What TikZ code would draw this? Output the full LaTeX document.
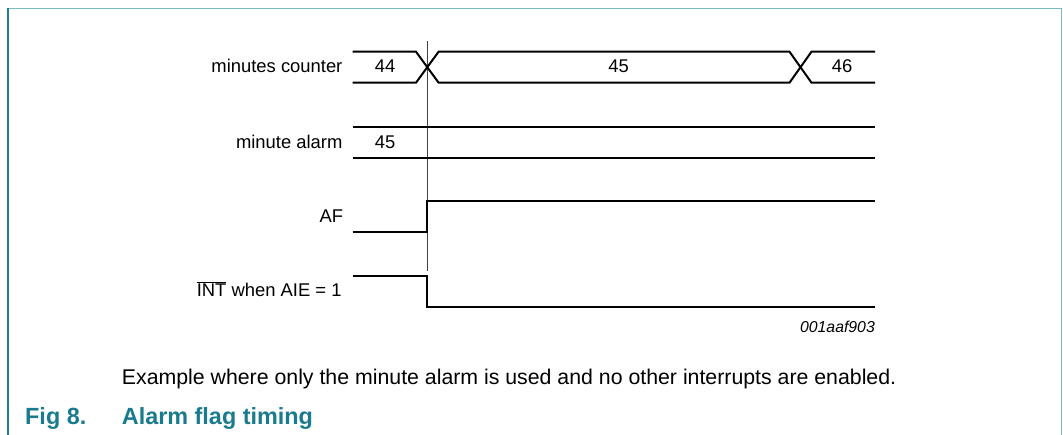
\documentclass[tikz,border=0pt]{standalone}
\usepackage{fontspec}
\setmainfont{Liberation Sans}
\definecolor{titleteal}{HTML}{1A7A8E}
\definecolor{framelight}{HTML}{7DBBC6}
\definecolor{framedark}{HTML}{1F7F95}
\begin{document}
\begin{tikzpicture}[x=1pt,y=-1pt,
  sig/.style={line width=2pt, line join=miter},
  marker/.style={line width=0.9pt, black!75},
  lbl/.style={anchor=base east, inner sep=0pt, font=\fontsize{18.4}{22}\selectfont},
  val/.style={anchor=base, inner sep=0pt, font=\fontsize{18.4}{22}\selectfont},
  code/.style={anchor=base east, inner sep=0pt, font=\fontsize{15.8}{19}\selectfont\itshape},
  note/.style={anchor=base west, inner sep=0pt, font=\fontsize{21.3}{25}\selectfont},
  title/.style={anchor=base west, inner sep=0pt, text=titleteal, font=\fontsize{23.4}{28}\selectfont\bfseries}]
\useasboundingbox (0,0) rectangle (1063,435);
% frame
\draw[framelight, line width=1.6pt] (7.7,8.7) -- (1061.3,8.7) -- (1061.3,435);
\draw[framedark, line width=1.6pt] (7.7,435) -- (7.7,7.9);
% coordinates
\coordinate (t0) at (352.7,0);
\coordinate (tc) at (427.3,0);
\coordinate (t2) at (800.5,0);
\coordinate (te) at (875,0);
% marker line
\coordinate (mtop) at (427.3,41);
\coordinate (mbot) at (427.3,270.7);
\draw[marker] (mtop) -- (mbot);
% minutes counter bus
\draw[sig] (352.7,51.7) -- (416,51.7) -- (438.6,82.7) -- (789.5,82.7) -- (811.5,51.7) -- (875,51.7);
\draw[sig] (352.7,82.7) -- (416,82.7) -- (438.6,51.7) -- (789.5,51.7) -- (811.5,82.7) -- (875,82.7);
% minute alarm bus
\draw[sig] (352.7,126.7) -- (875,126.7);
\draw[sig] (352.7,157.7) -- (875,157.7);
% AF
\draw[sig] (352.7,232.3) -- (427.3,232.3) -- (427.3,201) -- (875,201);
% INT
\draw[sig] (352.7,275.7) -- (427.3,275.7) -- (427.3,307.3) -- (875,307.3);
% labels
\node[lbl] (lmc) at (342.6,72.5) {minutes counter};
\node[lbl] (lma) at (342.6,148.3) {minute alarm};
\node[lbl] (laf) at (343.3,222.3) {AF};
\node[lbl] (lint) at (341.7,296.7) {$\overline{\hbox{INT}}$ when AIE = 1};
\node[val] (v44) at (385,72.5) {44};
\node[val] (v45) at (618.7,72.5) {45};
\node[val] (v46) at (842,72.5) {46};
\node[val] (va45) at (385,148.3) {45};
\node[code] (id) at (875,332.5) {001aaf903};
\node[note] (ex) at (121.7,384.3) {Example where only the minute alarm is used and no other interrupts are enabled.};
\node[title] (fig) at (25,424.3) {Fig 8.};
\node[title] (ftitle) at (121.7,424.3) {Alarm flag timing};
\end{tikzpicture}
\end{document}
